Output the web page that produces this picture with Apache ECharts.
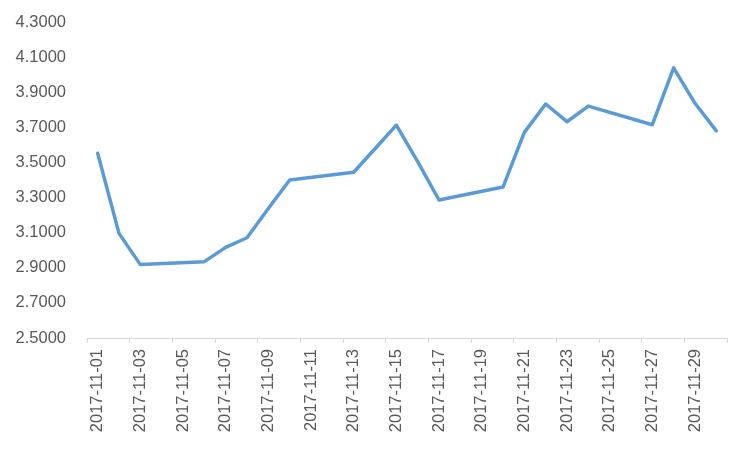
<!DOCTYPE html>
<html>
<head>
<meta charset="utf-8">
<script src="https://cdn.jsdelivr.net/npm/echarts@6/dist/echarts.min.js"></script>
<style>
html,body{margin:0;padding:0;background:#fff;}
#chart{width:751px;height:451px;}
</style>
</head>
<body>
<div id="chart"></div>
<script>
var categories = ["2017-11-01","2017-11-02","2017-11-03","2017-11-04","2017-11-05","2017-11-06","2017-11-07","2017-11-08","2017-11-09","2017-11-10","2017-11-11","2017-11-12","2017-11-13","2017-11-14","2017-11-15","2017-11-16","2017-11-17","2017-11-18","2017-11-19","2017-11-20","2017-11-21","2017-11-22","2017-11-23","2017-11-24","2017-11-25","2017-11-26","2017-11-27","2017-11-28","2017-11-29","2017-11-30"];
var values = [3.552,3.096,2.918,null,null,2.935,3.016,3.071,3.238,3.400,null,null,3.444,3.578,3.713,3.505,3.286,null,null,3.360,3.671,3.833,3.732,3.821,null,null,3.715,4.039,3.837,3.680];
var yMin = 2.5, yMax = 4.3, yStep = 0.2;

var chart = echarts.init(document.getElementById('chart'));
chart.setOption({
  animation: false,
  backgroundColor: '#ffffff',
  grid: { left: 87, right: 24, top: 22, bottom: 113 },
  xAxis: {
    type: 'category',
    data: categories,
    boundaryGap: true,
    axisLine: { lineStyle: { color: '#d9d9d9', width: 1 } },
    axisTick: { show: true, interval: 1, length: 5, lineStyle: { color: '#d9d9d9' } },
    axisLabel: {
      interval: 1, rotate: 90, color: '#595959',
      fontFamily: 'Liberation Sans', fontSize: 16.5, margin: 11
    }
  },
  yAxis: {
    type: 'value',
    min: yMin, max: yMax, interval: yStep,
    axisLine: { show: false },
    axisTick: { show: false },
    splitLine: { show: false },
    axisLabel: {
      color: '#595959', fontFamily: 'Liberation Sans', fontSize: 16.5, margin: 21,
      formatter: function (v) { return v.toFixed(4); }
    }
  },
  series: [{
    type: 'line',
    data: values,
    connectNulls: true,
    showSymbol: false,
    symbol: 'none',
    lineStyle: { color: '#5b9bd5', width: 3.5, join: 'round', cap: 'round' },
    itemStyle: { color: '#5b9bd5' }
  }]
});
</script>
</body>
</html>
